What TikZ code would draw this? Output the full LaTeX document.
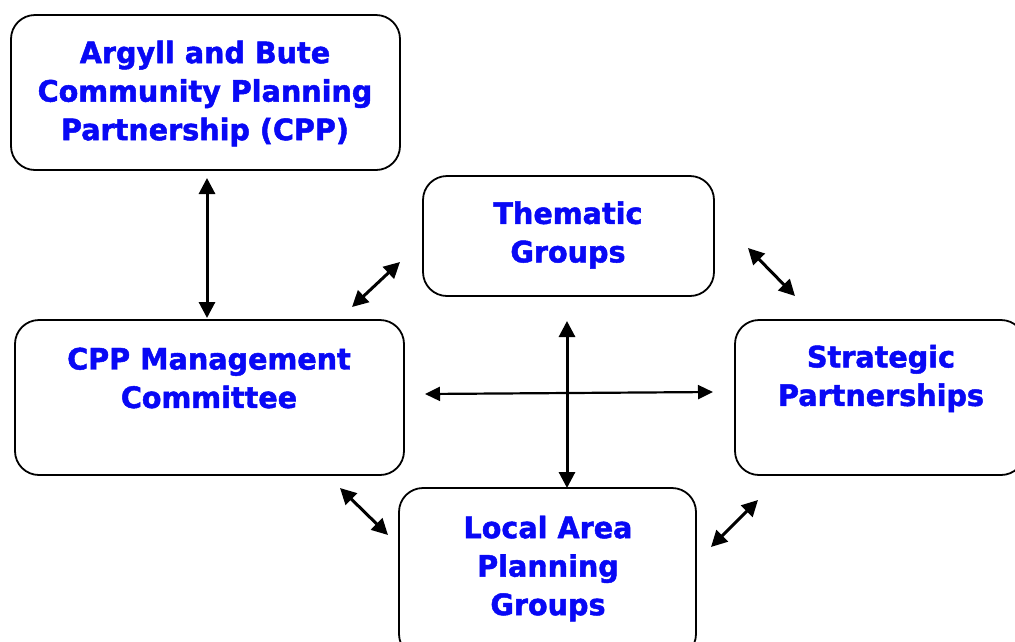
\documentclass[tikz,border=0pt]{standalone}
\usepackage{fontspec}
\setmainfont{DejaVu Sans}[BoldFont={DejaVu Sans Bold},BoldFeatures={FakeBold=1.6,FakeStretch=0.97}]
\usetikzlibrary{arrows.meta}
\definecolor{txtblue}{RGB}{8,8,245}
\begin{document}
\begin{tikzpicture}[x=1pt,y=-1pt,
  box/.style={draw=black,line width=1.8pt,rounded corners=24pt,fill=white,inner sep=0pt},
  lbl/.style={text=txtblue,font=\fontsize{29.5}{38.5}\selectfont\bfseries,align=center,inner sep=0pt},
  link/.style={{Triangle[length=16pt,width=16pt]}-{Triangle[length=16pt,width=16pt]},line width=3pt},
  thin link/.style={{Triangle[length=15pt,width=14pt]}-{Triangle[length=15pt,width=14pt]},line width=2.2pt}]
\useasboundingbox (0,0) rectangle (1015,641);
\node[box,minimum width=389pt,minimum height=155pt] (cpp) at (205.5,92.5) {};
\node[box,minimum width=291pt,minimum height=120pt] (them) at (568.5,236) {};
\node[box,minimum width=389pt,minimum height=155pt] (mgmt) at (209.5,397.5) {};
\node[box,minimum width=290pt,minimum height=155pt] (strat) at (880,397.5) {};
\node[box,minimum width=297pt,minimum height=170pt] (local) at (547.5,573) {};
\node[lbl] (tcpp) at (205,93.5) {Argyll and Bute\\Community Planning\\Partnership (CPP)};
\node[lbl] (tthem) at (568,235) {Thematic\\Groups};
\node[lbl] (tmgmt) at (209,378) {CPP Management\\Committee};
\node[lbl] (tstrat) at (881,378.5) {Strategic\\Partnerships};
\node[lbl] (tlocal) at (548,568.5) {Local Area\\Planning\\Groups};
\coordinate (a1) at (207,178); \coordinate (a2) at (207,318);
\coordinate (b1) at (352,307); \coordinate (b2) at (400,262);
\coordinate (c1) at (748,248); \coordinate (c2) at (795,296);
\coordinate (d1) at (425,394); \coordinate (d2) at (713,392);
\coordinate (e1) at (567,321); \coordinate (e2) at (567,488);
\coordinate (f1) at (340,488); \coordinate (f2) at (388,535);
\coordinate (g1) at (758,500); \coordinate (g2) at (711,547);
\draw[link] (a1) -- (a2);
\draw[link] (b1) -- (b2);
\draw[link] (c1) -- (c2);
\draw[thin link] (d1) -- (d2);
\draw[link] (e1) -- (e2);
\draw[link] (f1) -- (f2);
\draw[link] (g1) -- (g2);
\end{tikzpicture}
\end{document}
